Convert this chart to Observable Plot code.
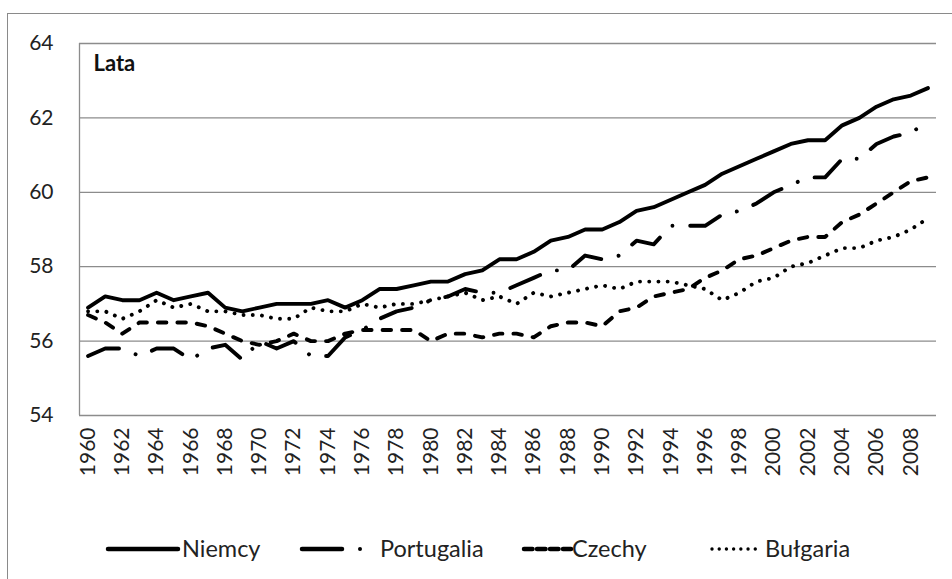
<!DOCTYPE html>
<html>
<head>
<meta charset="utf-8">
<script src="https://cdn.jsdelivr.net/npm/d3@7"></script>
<script src="https://cdn.jsdelivr.net/npm/@observablehq/plot@0.6"></script>
<style>
  html, body { margin: 0; padding: 0; background: #fff; }
  #wrap { position: relative; width: 952px; height: 579px; overflow: hidden; font-family: Lato, "Open Sans", sans-serif; }
  #frame { position: absolute; left: 7px; top: 13px; width: 960px; height: 600px; border: 1.5px solid #8a8a8a; box-sizing: border-box; }
  #chart { position: absolute; left: 0; top: 0; }
  #legend { position: absolute; left: 0; top: 525px; }
</style>
</head>
<body>
<div id="wrap">
  <div id="frame"></div>
  <div id="chart"></div>
  <div id="legend"></div>
</div>
<script>
const years = d3.range(1960, 2010);
const seriesNames = ["Niemcy", "Portugalia", "Czechy", "Bułgaria"];
const niemcy = [56.9,57.2,57.1,57.1,57.3,57.1,57.2,57.3,56.9,56.8,
  56.9,57.0,57.0,57.0,57.1,56.9,57.1,57.4,57.4,57.5,
  57.6,57.6,57.8,57.9,58.2,58.2,58.4,58.7,58.8,59.0,
  59.0,59.2,59.5,59.6,59.8,60.0,60.2,60.5,60.7,60.9,
  61.1,61.3,61.4,61.4,61.8,62.0,62.3,62.5,62.6,62.8];
const portugalia = [55.6,55.8,55.8,55.6,55.8,55.8,55.5,55.8,55.9,55.5,
  56.0,55.8,56.0,55.6,55.6,56.1,56.3,56.6,56.8,56.9,
  57.1,57.2,57.4,57.3,57.3,57.5,57.7,57.9,57.9,58.3,
  58.2,58.3,58.7,58.6,59.1,59.1,59.1,59.4,59.5,59.7,
  60.0,60.2,60.4,60.4,60.9,60.9,61.3,61.5,61.6,61.9];
const czechy = [56.7,56.5,56.2,56.5,56.5,56.5,56.5,56.4,56.2,56.0,
  55.9,56.0,56.2,56.0,56.0,56.2,56.3,56.3,56.3,56.3,
  56.0,56.2,56.2,56.1,56.2,56.2,56.1,56.4,56.5,56.5,
  56.4,56.8,56.9,57.2,57.3,57.4,57.7,57.9,58.2,58.3,
  58.5,58.7,58.8,58.8,59.2,59.4,59.7,60.0,60.3,60.4];
const bulgaria = [56.8,56.8,56.6,56.8,57.1,56.9,57.0,56.8,56.8,56.7,
  56.7,56.6,56.6,56.9,56.8,56.8,57.0,56.9,57.0,57.0,
  57.1,57.2,57.3,57.1,57.2,57.0,57.3,57.2,57.3,57.4,
  57.5,57.4,57.6,57.6,57.6,57.5,57.4,57.1,57.3,57.6,
  57.7,58.0,58.1,58.3,58.5,58.5,58.7,58.8,59.0,59.3];
const xTicks = d3.range(1960, 2010, 2);
const yTicks = [54, 56, 58, 60, 62, 64];
const axisTitle = "Lata";

const values = [niemcy, portugalia, czechy, bulgaria];
const dashes = [null, "32.5,17.75,0.01,17.75", "8.5,11", "0.01,9.2"];
const widths = [3.9, 3.9, 3.9, 3.9];

const rows = [];
seriesNames.forEach((s, i) => years.forEach((y, j) => rows.push({series: s, year: y, value: values[i][j]})));

const lineMarks = seriesNames.map((s, i) => Plot.line(rows.filter(r => r.series === s), {
  x: "year", y: "value", stroke: "#000", strokeWidth: widths[i],
  strokeDasharray: dashes[i], strokeLinecap: "round", strokeLinejoin: "round"
}));

const chart = Plot.plot({
  width: 952,
  height: 492,
  marginLeft: 79,
  marginRight: 16,
  marginTop: 43,
  marginBottom: 77,
  style: {fontFamily: "Lato, 'Open Sans', sans-serif", fontSize: "21px", color: "#222", background: "transparent", overflow: "visible"},
  x: {type: "linear", domain: [1959.5, 2009.5], ticks: xTicks, tickFormat: d => String(d), tickRotate: -90, tickSize: 0, tickPadding: 12, label: null},
  y: {domain: [54, 64], ticks: yTicks, tickSize: 0, tickPadding: 26, label: null},
  marks: [
    Plot.ruleY(yTicks, {stroke: "#8c8c8c", strokeWidth: 1.3}),
    Plot.ruleX([1959.5], {y1: 54, y2: 64, stroke: "#8c8c8c", strokeWidth: 1.3}),
    ...lineMarks,
    Plot.text([axisTitle], {frameAnchor: "top-left", dx: 14, dy: 12, fontWeight: "bold", fontSize: 22, fill: "#111"})
  ]
});
document.getElementById("chart").appendChild(chart);

// legend
const legendItems = [
  {x0: 108, x1: 178, dot: null, tx: 182},
  {x0: 302, x1: 342, dot: 360, tx: 380},
  {x0: 524, x1: 571, dot: null, tx: 572},
  {x0: 712, x1: 756, dot: null, tx: 765}
];
const leg = d3.select("#legend").append("svg").attr("width", 952).attr("height", 50);
const legendDashes = [null, null, "8.5,4.5", "0.01,7.2"];
seriesNames.forEach((s, i) => {
  const it = legendItems[i];
  leg.append("line").attr("x1", it.x0).attr("x2", it.x1).attr("y1", 24).attr("y2", 24)
    .attr("stroke", "#000").attr("stroke-width", i === 3 ? 3.4 : 4.5).attr("stroke-linecap", "round")
    .attr("stroke-dasharray", legendDashes[i]);
  if (it.dot) leg.append("circle").attr("cx", it.dot).attr("cy", 24).attr("r", 2).attr("fill", "#000");
  leg.append("text").attr("x", it.tx).attr("y", 32).text(s)
    .attr("font-family", "Lato, 'Open Sans', sans-serif").attr("font-size", 23.5).attr("fill", "#222");
});
</script>
</body>
</html>
